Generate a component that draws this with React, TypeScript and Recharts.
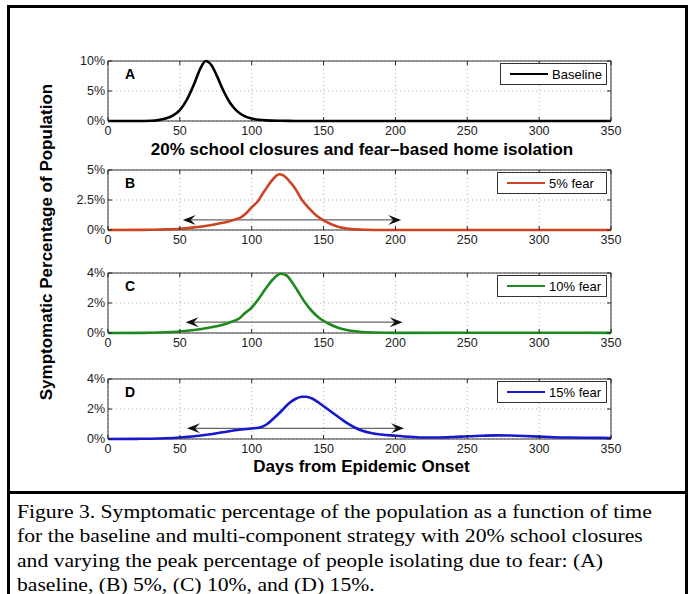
import React from 'react';
import { LineChart, Line, XAxis, YAxis, CartesianGrid, ReferenceLine, ReferenceArea } from 'recharts';

const xTicks = [0, 50, 100, 150, 200, 250, 300, 350];

// A: baseline
const daysA = [0, 20, 30, 35, 40, 45, 50, 55, 60, 64, 68, 72, 76, 80, 85, 90, 95, 100, 105, 110, 120, 130, 150, 200, 250, 300, 350];
const valuesA = [0, 0.01, 0.05, 0.15, 0.4, 0.9, 1.8, 3.6, 6.2, 8.6, 10, 9.3, 7.4, 5.2, 3.0, 1.6, 0.8, 0.4, 0.2, 0.1, 0.03, 0.01, 0, 0, 0, 0, 0];

// B: 5% fear
const daysB = [0, 25, 30, 40, 50, 60, 70, 80, 88, 93, 97, 100, 104, 108, 112, 116, 119, 122, 126, 130, 135, 140, 145, 150, 155, 160, 165, 170, 180, 190, 250, 300, 350];
const valuesB = [0, 0.01, 0.02, 0.05, 0.1, 0.22, 0.38, 0.6, 0.85, 1.1, 1.5, 1.9, 2.35, 3.1, 3.8, 4.4, 4.65, 4.55, 4.1, 3.5, 2.5, 1.8, 1.2, 0.8, 0.5, 0.28, 0.15, 0.07, 0.02, 0, 0, 0, 0];

// C: 10% fear
const daysC = [0, 25, 30, 40, 50, 60, 70, 80, 86, 91, 95, 100, 105, 110, 115, 120, 124, 128, 132, 137, 142, 147, 153, 160, 167, 175, 185, 200, 250, 300, 350];
const valuesC = [0, 0.01, 0.02, 0.05, 0.1, 0.2, 0.35, 0.55, 0.75, 0.95, 1.3, 1.7, 2.3, 3.0, 3.6, 3.95, 3.85, 3.4, 2.8, 2.05, 1.45, 1.0, 0.65, 0.35, 0.18, 0.08, 0.03, 0.01, 0.02, 0.02, 0.01];

// D: 15% fear
const daysD = [0, 20, 30, 40, 50, 60, 70, 80, 90, 100, 105, 110, 115, 120, 125, 130, 135, 138, 142, 147, 152, 157, 162, 167, 172, 177, 183, 190, 200, 210, 220, 230, 240, 250, 260, 270, 280, 290, 300, 310, 320, 335, 350];
const valuesD = [0, 0.01, 0.02, 0.05, 0.1, 0.18, 0.3, 0.45, 0.6, 0.7, 0.75, 0.95, 1.35, 1.8, 2.3, 2.65, 2.82, 2.82, 2.7, 2.4, 2.05, 1.7, 1.35, 1.02, 0.75, 0.55, 0.4, 0.3, 0.22, 0.15, 0.1, 0.1, 0.13, 0.18, 0.22, 0.24, 0.23, 0.2, 0.16, 0.12, 0.1, 0.08, 0.07];

const yTicksA = [0, 5, 10];
const yTicksB = [0, 2.5, 5];
const yTicksC = [0, 2, 4];
const yTicksD = [0, 2, 4];

// arrows: [start day, end day, level %]
const arrowB = [52, 204, 0.84];
const arrowC = [54, 205, 0.72];
const arrowD = [55, 206, 0.71];

const PLOT_W = 503;
const PLOT_H = 60;
const SANS = '"Liberation Sans", Arial, sans-serif';

const toRows = (days: number[], values: number[]) => days.map((d, i) => ({ day: d, v: values[i] }));

const XTick = (props: any) => {
  const { x, y, payload } = props;
  return (
    <g>
      <line x1={x} x2={x} y1={y} y2={y - 4} stroke="#222" />
      <line x1={x} x2={x} y1={y - PLOT_H} y2={y - PLOT_H + 4} stroke="#222" />
      <text x={x} y={y + 14} textAnchor="middle" fontSize={12.5} fontFamily={SANS} fill="#222">
        {payload.value}
      </text>
    </g>
  );
};

const YTick = (props: any) => {
  const { x, y, payload } = props;
  return (
    <g>
      <line x1={x} x2={x + 4} y1={y} y2={y} stroke="#222" />
      <line x1={x + PLOT_W} x2={x + PLOT_W - 4} y1={y} y2={y} stroke="#222" />
      <text x={x - 3} y={y + 4} textAnchor="end" fontSize={12.5} fontFamily={SANS} fill="#222">
        {payload.value}%
      </text>
    </g>
  );
};

const Arrow = (props: any) => {
  const { x1, y1, x2 } = props;
  const y = y1;
  return (
    <g>
      <line x1={x1 + 8} y1={y} x2={x2 - 8} y2={y} stroke="#666" strokeWidth={1.2} />
      <path d={`M${x1},${y} L${x1 + 13},${y - 5} L${x1 + 8},${y} L${x1 + 13},${y + 5} Z`} fill="#111" />
      <path d={`M${x2},${y} L${x2 - 13},${y - 5} L${x2 - 8},${y} L${x2 - 13},${y + 5} Z`} fill="#111" />
    </g>
  );
};

type PanelProps = {
  top: number;
  label: string;
  name: string;
  color: string;
  days: number[];
  values: number[];
  yTicks: number[];
  arrow?: number[];
  legendLeft: number;
};

const Panel = ({ top, label, name, color, days, values, yTicks, arrow, legendLeft }: PanelProps) => {
  const yMax = yTicks[yTicks.length - 1];
  return (
    <div style={{ position: 'absolute', left: 0, top: top - 10, width: 691, height: 100 }}>
      <LineChart width={691} height={100} data={toRows(days, values)} margin={{ top: 10, right: 80, bottom: 10, left: 58 }}>
        <CartesianGrid stroke="#b0b0b0" strokeDasharray="1 3" />
        <XAxis dataKey="day" type="number" domain={[0, 350]} ticks={xTicks} height={20} axisLine={false} tickLine={false} tickSize={0} tickMargin={0} tick={<XTick />} interval={0} />
        <YAxis type="number" domain={[0, yMax]} ticks={yTicks} width={50} axisLine={false} tickLine={false} tickSize={0} tickMargin={0} tick={<YTick />} interval={0} />
        <ReferenceArea x1={0} x2={350} y1={0} y2={yMax} fill="none" stroke="#333" strokeWidth={1} />
        {arrow && (
          <ReferenceLine segment={[{ x: arrow[0], y: arrow[2] }, { x: arrow[1], y: arrow[2] }]} shape={<Arrow />} />
        )}
        <Line type="monotone" dataKey="v" stroke={color} strokeWidth={2.6} dot={false} isAnimationActive={false} />
      </LineChart>
      <div style={{ position: 'absolute', left: 125, top: 15, fontFamily: SANS, fontWeight: 'bold', fontSize: 14 }}>{label}</div>
      <div
        style={{
          position: 'absolute', left: legendLeft, top: 12, width: 607 - legendLeft, height: 22, boxSizing: 'border-box',
          border: '1px solid #333', background: '#fff', display: 'flex', alignItems: 'center', fontFamily: SANS, fontSize: 13,
        }}
      >
        <div style={{ marginLeft: 9, width: 38, height: 2.6, background: color }} />
        <div style={{ marginLeft: 4 }}>{name}</div>
      </div>
    </div>
  );
};

const captionLines = [
  'Figure 3. Symptomatic percentage of the population as a function of time',
  'for the baseline and multi-component strategy with 20% school closures',
  'and varying the peak percentage of people isolating due to fear: (A)',
  'baseline, (B) 5%, (C) 10%, and (D) 15%.',
];

export default function App() {
  return (
    <div style={{ position: 'absolute', left: 0, top: 0, width: 691, height: 594, background: '#fff', overflow: 'hidden' }}>
      <div style={{ position: 'absolute', left: 7, top: 5, width: 681, height: 620, boxSizing: 'border-box', borderTop: '3px solid #000', borderLeft: '3px solid #000', borderRight: '3px solid #000' }} />
      <div style={{ position: 'absolute', left: 7, top: 491, width: 681, height: 3, background: '#000' }} />

      <Panel top={61} label="A" name="Baseline" color="#000000" days={daysA} values={valuesA} yTicks={yTicksA} legendLeft={500} />
      <div style={{ position: 'absolute', left: 0, width: 724, top: 140, textAlign: 'center', fontFamily: SANS, fontWeight: 'bold', fontSize: 17 }}>
        20% school closures and fear–based home isolation
      </div>
      <Panel top={170} label="B" name="5% fear" color="#cc4422" days={daysB} values={valuesB} yTicks={yTicksB} arrow={arrowB} legendLeft={497} />
      <Panel top={273} label="C" name="10% fear" color="#1e8a1e" days={daysC} values={valuesC} yTicks={yTicksC} arrow={arrowC} legendLeft={497} />
      <Panel top={379} label="D" name="15% fear" color="#1818cc" days={daysD} values={valuesD} yTicks={yTicksD} arrow={arrowD} legendLeft={497} />
      <div style={{ position: 'absolute', left: 0, width: 723, top: 457, textAlign: 'center', fontFamily: SANS, fontWeight: 'bold', fontSize: 17 }}>
        Days from Epidemic Onset
      </div>
      <div
        style={{
          position: 'absolute', left: 47, top: 242, transform: 'translate(-50%, -50%) rotate(-90deg)', whiteSpace: 'nowrap',
          fontFamily: SANS, fontWeight: 'bold', fontSize: 17,
        }}
      >
        Symptomatic Percentage of Population
      </div>

      <div
        style={{
          position: 'absolute', left: 17, top: 500, fontFamily: '"Liberation Serif", "Times New Roman", serif', fontSize: 19.5,
          lineHeight: '24.3px', color: '#000', transform: 'scaleX(1.11)', transformOrigin: 'left top',
        }}
      >
        {captionLines.map((l) => (
          <div key={l} style={{ whiteSpace: 'nowrap' }}>{l}</div>
        ))}
      </div>
    </div>
  );
}
